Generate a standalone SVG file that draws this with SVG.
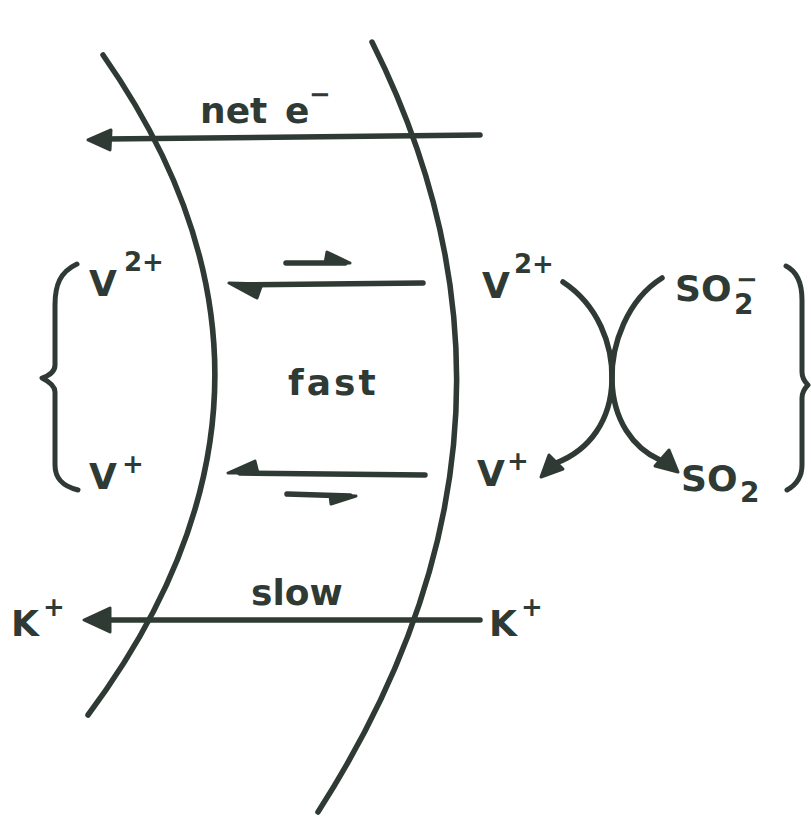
<svg xmlns="http://www.w3.org/2000/svg" width="811" height="818" viewBox="0 0 811 818">
<style>
.ln{fill:none;stroke:#2f3a34;stroke-width:5.5;stroke-linecap:round;stroke-linejoin:round}
.br{fill:none;stroke:#2f3a34;stroke-width:5;stroke-linecap:round;stroke-linejoin:round}
.hd{fill:#2f3a34;stroke:#2f3a34;stroke-width:3;stroke-linejoin:round}
.t{font-family:"DejaVu Sans","Liberation Sans",sans-serif;font-weight:bold;font-size:36px;fill:#2f3a34}
.s{font-size:26px}
</style>
<rect width="811" height="818" fill="#ffffff"/>
<g id="membranes">
<path class="ln" d="M103,55 Q334,385 88,715"/>
<path class="ln" d="M372,42 Q565,427 318,812"/>
</g>
<g id="braces">
<path class="br" d="M77,264 C60,272 55,285 55,305 L55,365 C55,372 48,376 42,378 C48,381 55,385 55,392 L55,465 C55,478 62,486 78,490"/>
<path class="br" d="M786,266 C798,272 802,285 802,300 L802,372 C802,378 805,382 808,385 C805,388 802,392 802,398 L802,465 C802,478 796,485 787,490"/>
</g>
<g id="connectors">
<path class="ln" d="M480,135 L105,139"/>
<path class="hd" d="M88,140 L111,130 L110,150 Z"/>
<path class="ln" d="M423,283 L240,285"/>
<path class="hd" d="M229,283 L262,284 L257,298 Z"/>
<path class="ln" d="M286,263 L345,263"/>
<path class="hd" d="M350,263 L327,252 L325,263 Z"/>
<path class="ln" d="M425,475 L240,473"/>
<path class="hd" d="M228,473 L258,473 L255,461 Z"/>
<path class="ln" d="M287,494 L350,496"/>
<path class="hd" d="M356,496 L330,495 L331,504 Z"/>
<path class="ln" d="M480,620 L105,620"/>
<path class="hd" d="M84,620 L110,608 L110,632 Z"/>
<path class="ln" d="M563,282 C598,305 613,345 612,380 C611,420 590,450 556,463"/>
<path class="hd" d="M541,477 L549,455 L563,469 Z"/>
<path class="ln" d="M662,278 C627,300 611,345 612,380 C613,420 633,448 660,460"/>
<path class="hd" d="M678,472 L655,466 L669,450 Z"/>
</g>
<g id="net-e">
<text class="t" x="200" y="123">net<tspan x="285">e</tspan><tspan x="309" y="103" class="s">−</tspan></text>
</g>
<g id="fast"><text class="t" x="288" y="395" letter-spacing="3">fast</text></g>
<g id="slow"><text class="t" x="251" y="605">slow</text></g>
<g id="V2-left"><text class="t" x="89" y="296">V<tspan class="s" x="124" y="271">2+</tspan></text></g>
<g id="V1-left"><text class="t" x="89" y="489">V<tspan class="s" x="122" y="473">+</tspan></text></g>
<g id="K-left"><text class="t" x="11" y="636">K<tspan class="s" x="43" y="616">+</tspan></text></g>
<g id="K-right"><text class="t" x="489" y="636">K<tspan class="s" x="521" y="616">+</tspan></text></g>
<g id="V2-right"><text class="t" x="482" y="298">V<tspan class="s" x="514" y="273">2+</tspan></text></g>
<g id="V1-right"><text class="t" x="477" y="486">V<tspan class="s" x="507" y="470">+</tspan></text></g>
<g id="SO2minus"><text class="t" x="675" y="301">SO<tspan x="734" y="314" font-size="28">2</tspan><tspan x="736" y="288" class="s">−</tspan></text></g>
<g id="SO2"><text class="t" x="681" y="491">SO<tspan x="740" y="502" font-size="28">2</tspan></text></g>
</svg>
